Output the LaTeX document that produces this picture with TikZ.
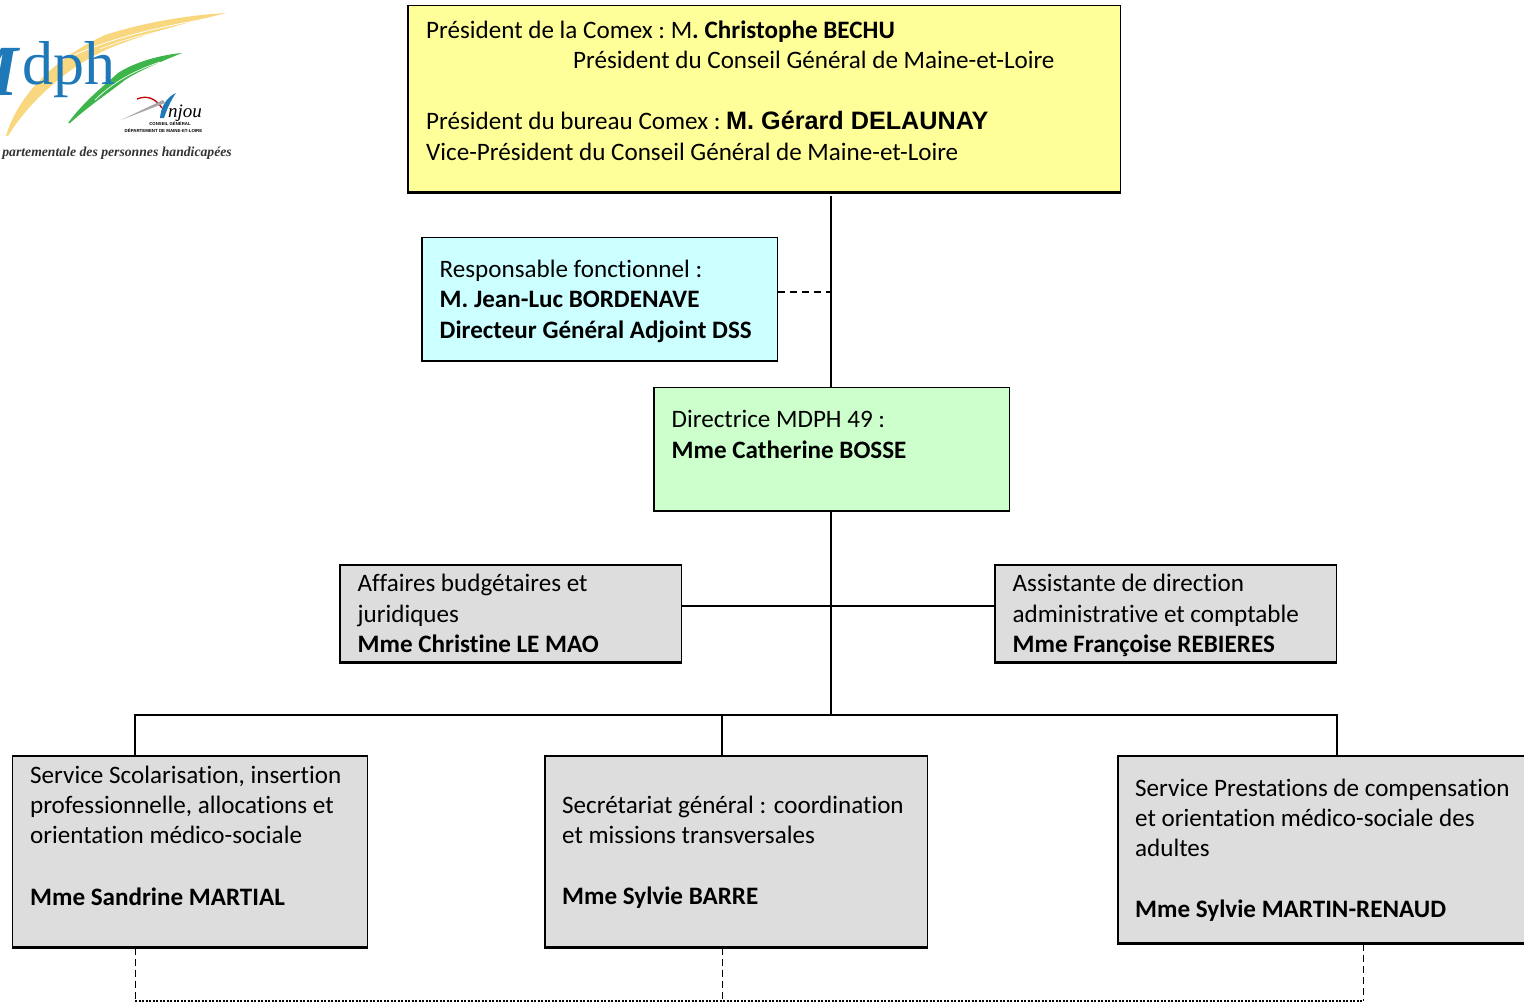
\documentclass[tikz,border=0pt]{standalone}
\usepackage{fontspec}
\setmainfont[Ligatures=NoCommon]{Carlito}
\newfontfamily\arialf{Liberation Sans}
\newfontfamily\timesf{Liberation Serif}
\definecolor{cyellow}{HTML}{FFFF99}
\definecolor{ccyan}{HTML}{CCFFFF}
\definecolor{cgreen}{HTML}{CCFFCC}
\definecolor{cgray}{HTML}{DDDDDD}
\definecolor{lblue}{HTML}{1F78B8}
\definecolor{lyellow}{HTML}{F9D77E}
\definecolor{lgreen}{HTML}{3DB54A}
\tikzset{
 x=1pt,y=-1pt,
 box/.style={draw=black,line width=1.5pt,inner sep=0pt,anchor=north west,minimum width=#1},
 lab/.style={inner sep=0pt,anchor=base west,font=\fontsize{25.1pt}{30pt}\selectfont},
 conn/.style={draw=black,line width=1.5pt},
 dconn/.style={draw=black,line width=1.5pt,dash pattern=on 7pt off 5pt},
 thindash/.style={draw=black,line width=0.9pt,dash pattern=on 7pt off 4pt},
 dotdash/.style={draw=black,line width=1.2pt,dash pattern=on 2pt off 1.5pt},
}
\newcommand{\bx}[6]{\node[box=#4pt,minimum height=#5pt,fill=#6] (#1) at (#2,#3) {};
 \draw[black,line width=2pt] (#1.south west) -- (#1.south east);}
\begin{document}
\begin{tikzpicture}
\useasboundingbox (0,0) rectangle (1524,1002);
\clip (0,0) rectangle (1524,1002);
% logo
\fill[lyellow] (6,136) .. controls (18,95) and (55,58) .. (105,35) .. controls (145,22) and (190,15) .. (226,13) .. controls (190,22) and (150,32) .. (110,48) .. controls (70,65) and (30,100) .. (8,136) -- cycle;
\draw[white,line width=0.8pt] (70,57) .. controls (110,38) and (160,27) .. (205,19);
\draw[white,line width=0.6pt] (100,49) .. controls (130,37) and (170,28) .. (210,21);
\fill[lgreen] (68,123) .. controls (85,100) and (105,85) .. (118,73) .. controls (135,62) and (160,55) .. (182,53) .. controls (165,60) and (140,70) .. (125,80) .. controls (110,92) and (90,105) .. (70,123) -- cycle;
\draw[white,line width=0.7pt] (95,100) .. controls (110,85) and (130,72) .. (160,62);
\draw[white,line width=0.5pt] (105,97) .. controls (115,88) and (125,82) .. (135,76);
\node[inner sep=0pt,anchor=base east,text=lblue,font=\timesf\itshape\bfseries\fontsize{72pt}{72pt}\selectfont] (logom) at (19,95) {M};
\node[inner sep=0pt,anchor=base west,text=lblue,font=\timesf\fontsize{62pt}{62pt}\selectfont] (logotxt) at (22,84) {dph};
\draw[red!75!black,line width=1.3pt] (137,99) .. controls (147,95) and (155,98) .. (162,108);
\fill[lblue] (160,118) .. controls (161,106) and (167,97) .. (176,93) .. controls (171,100) and (167,109) .. (164,118) -- cycle;
\fill[gray!70] (121,120) -- (163,100) -- (165,103) -- cycle;
\node[inner sep=0pt,anchor=base west,font=\timesf\itshape\fontsize{19pt}{19pt}\selectfont] (anjou) at (168,117) {njou};
\node[inner sep=0pt,font=\arialf\bfseries\fontsize{4.3pt}{4pt}\selectfont] (cg) at (170,124) {CONSEIL GÉNÉRAL};
\node[inner sep=0pt,font=\arialf\bfseries\fontsize{4.4pt}{4pt}\selectfont] (dep) at (163.5,131) {DÉPARTEMENT DE MAINE-ET-LOIRE};
\node[inner sep=0pt,anchor=base east,text=black!80,font=\timesf\itshape\bfseries\fontsize{13.7pt}{14pt}\selectfont] (logob) at (232,156) {partementale des personnes handicapées};
% connector helper points
\coordinate (top) at (831,196);
\coordinate (busR) at (831,715);
\coordinate (busL) at (135,715);
\coordinate (busM) at (722,715);
\coordinate (busE) at (1337,715);
% boxes
\bx{pres}{407}{4.5}{712.5}{186.5}{cyellow}
\bx{resp}{421}{236.5}{355.5}{123}{ccyan}
\bx{dir}{653}{386.5}{355.5}{123}{cgreen}
\bx{aff}{339}{564}{341.5}{97}{cgray}
\bx{ass}{994}{564}{341.5}{97}{cgray}
\bx{sco}{11.5}{755}{355}{191}{cgray}
\bx{sec}{544}{755}{382.5}{191}{cgray}
\bx{pre}{1117}{755}{420}{187}{cgray}
% connectors
\draw[conn] (top) -- (dir.north -| top);
\draw[dconn] (resp.east |- 0,292) -- (top |- 0,292);
\draw[conn] (dir.south -| top) -- (busR);
\draw[conn] (aff.east |- 0,606) -- (ass.west |- 0,606);
\draw[conn] (sco.north -| busL) -- (busL) -- (busE) -- (busE |- pre.north);
\draw[conn] (busM) -- (sec.north -| busM);
\coordinate (dl) at (135,1001);
\coordinate (dm) at (722,1001);
\coordinate (dr) at (1363,1001);
\draw[thindash] (sco.south -| dl) -- (dl);
\draw[thindash] (sec.south -| dm) -- (dm);
\draw[thindash] (pre.south -| dr) -- (dr);
\draw[dotdash] (dl) -- (dr);
% texts
\node[lab] (t1) at (426,38) {Président de la Comex :\kern-2pt{} M\textbf{. Christophe BECHU}};
\node[lab] (t2) at (573,68.5) {Président du Conseil Général de Maine-et-Loire};
\node[lab] (t3) at (426,129) {Président du bureau Comex :\kern-2pt{} {\arialf\bfseries\fontsize{25.2pt}{30pt}\selectfont M. Gérard DELAUNAY}};
\node[lab] (t4) at (426,160) {Vice-Président du Conseil Général de Maine-et-Loire};
\node[lab] (r1) at (439.5,277) {Responsable fonctionnel :};
\node[lab] (r2) at (439.5,307.5) {\textbf{M. Jean-Luc BORDENAVE}};
\node[lab] (r3) at (439.5,338) {\textbf{Directeur Général Adjoint DSS}};
\node[lab] (d1) at (671.5,427) {Directrice MDPH 49 :};
\node[lab] (d2) at (671.5,458) {\textbf{Mme Catherine BOSSE}};
\node[lab] (a1) at (357.5,591) {Affaires budgétaires et};
\node[lab] (a2) at (357.5,622) {juridiques};
\node[lab] (a3) at (357.5,652.5) {\textbf{Mme Christine LE MAO}};
\node[lab] (b1) at (1012.5,591) {Assistante de direction};
\node[lab] (b2) at (1012.5,622) {administrative et comptable};
\node[lab] (b3) at (1012.5,652.5) {\textbf{Mme Françoise REBIERES}};
\node[lab] (s1) at (30,783) {Service Scolarisation, insertion};
\node[lab] (s2) at (30,813.5) {professionnelle, allocations et};
\node[lab] (s3) at (30,843.5) {orientation médico-sociale};
\node[lab] (s4) at (30,905) {\textbf{Mme Sandrine MARTIAL}};
\node[lab] (m1) at (562,813.5) {Secrétariat général : coordination};
\node[lab] (m2) at (562,843.5) {et missions transversales};
\node[lab] (m3) at (562,904.5) {\textbf{Mme Sylvie BARRE}};
\node[lab] (p1) at (1135,796) {Service Prestations de compensation};
\node[lab] (p2) at (1135,826) {et orientation médico-sociale des};
\node[lab] (p3) at (1135,856.5) {adultes};
\node[lab] (p4) at (1135,917) {\textbf{Mme Sylvie MARTIN-RENAUD}};
\end{tikzpicture}
\end{document}
